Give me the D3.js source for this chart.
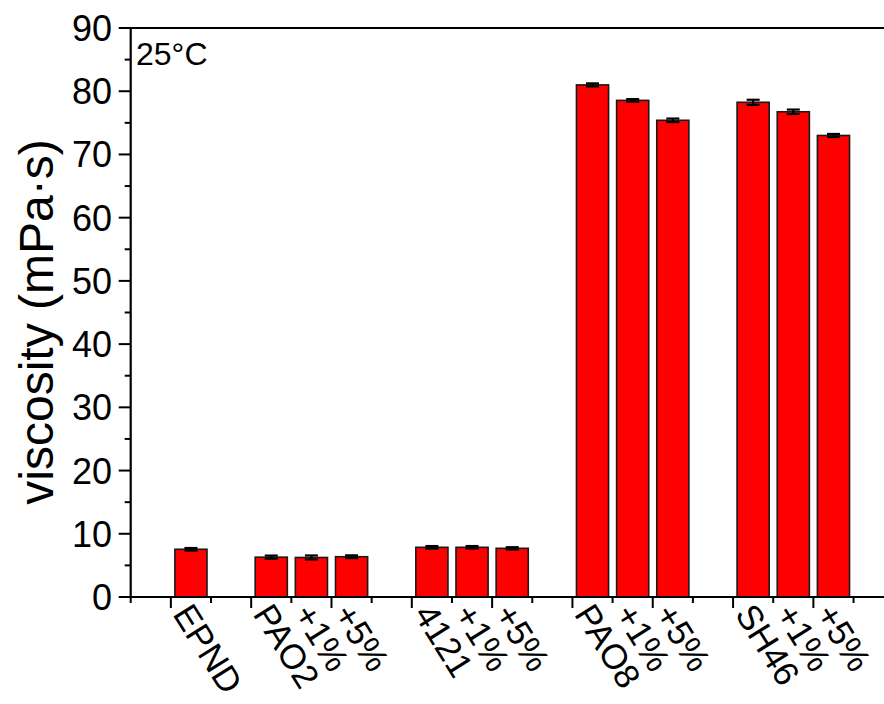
<!DOCTYPE html>
<html>
<head>
<meta charset="utf-8">
<script src="https://cdn.jsdelivr.net/npm/d3@7"></script>
<style>
    body { margin: 0; background: #fff; }
    text { font-family: 'Liberation Sans', Arial, sans-serif; fill: #000; }
</style>
</head>
<body>
<div id="chart"></div>
<script>
// sample groups, each followed by its additive variants
const groups = ['EPND', 'PAO2', '4121', 'PAO8', 'SH46'];
const variants = [[], ['+1%', '+5%'], ['+1%', '+5%'], ['+1%', '+5%'], ['+1%', '+5%']];

// viscosity at 25 C (mPa.s), same order as groups + variants
const values = [7.55, 6.3, 6.25, 6.37, 7.86, 7.86, 7.7, 81.0, 78.55, 75.4, 78.25, 76.75, 73.0];
const errors = [0.2, 0.25, 0.32, 0.22, 0.2, 0.2, 0.18, 0.24, 0.2, 0.28, 0.4, 0.35, 0.24];

const yTicks = [0, 10, 20, 30, 40, 50, 60, 70, 80, 90];
const yMinor = [5, 15, 25, 35, 45, 55, 65, 75, 85];

// build the slot list: an empty slot before every group and one at the end
const data = [];
const domain = [];
groups.forEach((g, i) => {
    domain.push('gap' + i);
    [g].concat(variants[i]).forEach(v => {
        const key = g + ' ' + v;
        domain.push(key);
        data.push({ key: key, label: v, value: values[data.length], err: errors[data.length] });
    });
});
domain.push('gapEnd');

const svg = d3.select('#chart')
    .append('svg')
    .attr('width', 884)
    .attr('height', 704);

const plot = { left: 130.7, right: 893.7, top: 28, bottom: 597 };

const x = d3.scaleBand()
    .domain(domain)
    .range([plot.left, plot.right])
    .paddingInner(0.2)
    .paddingOuter(0.1);

const y = d3.scaleLinear()
    .domain([0, 90])
    .range([plot.bottom, plot.top]);

const step = x.step();
const boundaries = d3.range(domain.length + 1).map(k => plot.left + k * step);

// bars
svg.selectAll('.bar')
    .data(data)
    .enter().append('rect')
    .attr('class', 'bar')
    .attr('x', d => x(d.key))
    .attr('y', d => y(d.value))
    .attr('width', x.bandwidth())
    .attr('height', d => y(0) - y(d.value))
    .attr('fill', '#ff0000')
    .attr('stroke', '#1a1a1a')
    .attr('stroke-width', 1.6);

// error bars
const eb = svg.selectAll('.err')
    .data(data)
    .enter().append('g')
    .attr('class', 'err')
    .attr('stroke', '#000')
    .attr('stroke-width', 2.2);
eb.append('line')
    .attr('x1', d => x(d.key) + x.bandwidth() / 2)
    .attr('x2', d => x(d.key) + x.bandwidth() / 2)
    .attr('y1', d => y(d.value - d.err))
    .attr('y2', d => y(d.value + d.err));
[-1, 1].forEach(s => {
    eb.append('line')
        .attr('x1', d => x(d.key) + x.bandwidth() / 2 - 6.5)
        .attr('x2', d => x(d.key) + x.bandwidth() / 2 + 6.5)
        .attr('y1', d => y(d.value + s * d.err))
        .attr('y2', d => y(d.value + s * d.err));
});

// y axis ticks
svg.selectAll('.ytick')
    .data(yTicks)
    .enter().append('line')
    .attr('x1', plot.left - 12).attr('x2', plot.left)
    .attr('y1', d => y(d)).attr('y2', d => y(d))
    .attr('stroke', '#000').attr('stroke-width', 2);
svg.selectAll('.yminor')
    .data(yMinor)
    .enter().append('line')
    .attr('x1', plot.left - 6).attr('x2', plot.left)
    .attr('y1', d => y(d)).attr('y2', d => y(d))
    .attr('stroke', '#000').attr('stroke-width', 2);
svg.selectAll('.ylab')
    .data(yTicks)
    .enter().append('text')
    .attr('x', 112)
    .attr('y', d => y(d))
    .attr('dy', '0.36em')
    .attr('text-anchor', 'end')
    .style('font-size', '36px')
    .text(d => d);

// x axis ticks: long on odd boundaries, short on even ones
svg.selectAll('.xtick')
    .data(boundaries)
    .enter().append('line')
    .attr('x1', d => d).attr('x2', d => d)
    .attr('y1', plot.bottom)
    .attr('y2', (d, i) => plot.bottom + (i % 2 ? 11 : 6))
    .attr('stroke', '#000').attr('stroke-width', 2);

// frame
svg.append('path')
    .attr('d', 'M' + plot.right + ',' + plot.top + 'H' + plot.left + 'V' + plot.bottom + 'H' + plot.right)
    .attr('fill', 'none')
    .attr('stroke', '#000')
    .attr('stroke-width', 2.2);

// rotated category labels
svg.selectAll('.xlab')
    .data(data)
    .enter().append('text')
    .attr('transform', d => 'translate(' + (x(d.key) + x.bandwidth() / 2 - 19) + ',' + (plot.bottom + 17) + ') rotate(58)')
    .attr('text-anchor', 'start')
    .style('font-size', '35px')
    .text(d => d.label);

// axis title
svg.append('text')
    .attr('transform', 'translate(53,322) rotate(-90)')
    .attr('text-anchor', 'middle')
    .style('font-size', '48px')
    .text('viscosity (mPa·s)');

svg.append('text')
    .attr('x', 136)
    .attr('y', 65)
    .style('font-size', '32px')
    .text('25°C');
</script>
</body>
</html>
